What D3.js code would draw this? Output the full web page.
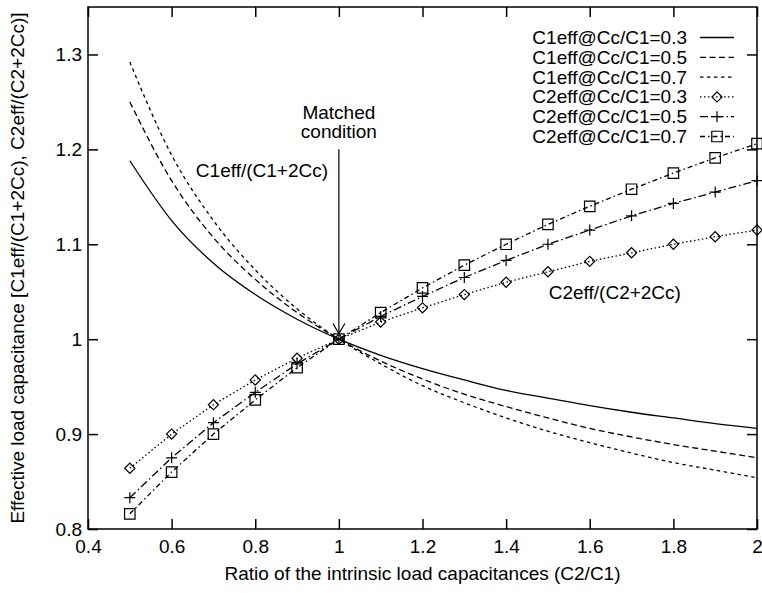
<!DOCTYPE html>
<html>
<head>
<meta charset="utf-8">
<script src="https://cdn.jsdelivr.net/npm/d3@7"></script>
<style>
  body { margin: 0; background: #fff; }
  text { font-family: "Liberation Sans", Arial, Helvetica, sans-serif; font-size: 19px; fill: #000; }
  .axis path { display: none; }
  .axis line { stroke: #000; stroke-width: 1.5; }
</style>
</head>
<body>
<div class="chart"></div>
<script>
// ratio C2/C1 on the x axis
const ratio = [0.5, 0.6, 0.7, 0.8, 0.9, 1.0, 1.1, 1.2, 1.3, 1.4, 1.5, 1.6, 1.7, 1.8, 1.9, 2.0];

// C1eff/(C1+2Cc)
const c1eff03 = [1.188, 1.125, 1.080, 1.047, 1.021, 1.000, 0.983, 0.969, 0.957, 0.946, 0.938, 0.930, 0.923, 0.917, 0.911, 0.906];
const c1eff05 = [1.250, 1.167, 1.107, 1.063, 1.028, 1.000, 0.977, 0.958, 0.942, 0.929, 0.917, 0.906, 0.897, 0.889, 0.882, 0.875];
const c1eff07 = [1.292, 1.194, 1.125, 1.073, 1.032, 1.000, 0.974, 0.951, 0.933, 0.917, 0.903, 0.891, 0.880, 0.870, 0.862, 0.854];

// C2eff/(C2+2Cc)
const c2eff03 = [0.864, 0.900, 0.931, 0.957, 0.980, 1.000, 1.018, 1.033, 1.047, 1.060, 1.071, 1.082, 1.091, 1.100, 1.108, 1.115];
const c2eff05 = [0.833, 0.875, 0.912, 0.944, 0.974, 1.000, 1.024, 1.045, 1.065, 1.083, 1.100, 1.115, 1.130, 1.143, 1.155, 1.167];
const c2eff07 = [0.816, 0.860, 0.900, 0.936, 0.970, 1.000, 1.028, 1.054, 1.078, 1.100, 1.121, 1.140, 1.158, 1.175, 1.191, 1.206];

const seriesNames = ["C1eff@Cc/C1=0.3", "C1eff@Cc/C1=0.5", "C1eff@Cc/C1=0.7",
                     "C2eff@Cc/C1=0.3", "C2eff@Cc/C1=0.5", "C2eff@Cc/C1=0.7"];
const seriesValues = [c1eff03, c1eff05, c1eff07, c2eff03, c2eff05, c2eff07];

const xTicks = [0.4, 0.6, 0.8, 1, 1.2, 1.4, 1.6, 1.8, 2];
const yTicks = [0.8, 0.9, 1, 1.1, 1.2, 1.3];

const xTitle = "Ratio of the intrinsic load capacitances (C2/C1)";
const yTitle = "Effective load capacitance [C1eff/(C1+2Cc), C2eff/(C2+2Cc)]";

// line look per series (gnuplot style)
const styles = [
  {dash: null,            marker: null,      smooth: true},
  {dash: "6,3.5",         marker: null,      smooth: true},
  {dash: "3.5,3.5",       marker: null,      smooth: true},
  {dash: "1.5,2.5",       marker: "diamond", smooth: false},
  {dash: "8,3,1.5,3",     marker: "plus",    smooth: false},
  {dash: "5,3,1.5,3",     marker: "square",  smooth: false}
];

let width = 762,
  height = 593,
  margin = {top: 7, right: 5, bottom: 64, left: 88};

let svg = d3.select(".chart")
  .append("svg")
  .attr("width", width)
  .attr("height", height);

let x = d3.scaleLinear().domain([0.4, 2]).range([margin.left, width - margin.right]);
let y = d3.scaleLinear().domain([0.8, 1.35]).range([height - margin.bottom, margin.top]);

// ticks point inward on all four sides
svg.append("g")
  .attr("class", "axis")
  .attr("transform", `translate(0,${y.range()[0]})`)
  .call(d3.axisBottom(x).tickValues(xTicks).tickSize(-10).tickPadding(11).tickFormat(d => String(d)));

svg.append("g")
  .attr("class", "axis")
  .attr("transform", `translate(0,${y.range()[1]})`)
  .call(d3.axisTop(x).tickValues(xTicks).tickSize(-10).tickFormat(""));

svg.append("g")
  .attr("class", "axis")
  .attr("transform", `translate(${x.range()[0]},0)`)
  .call(d3.axisLeft(y).tickValues(yTicks).tickSize(-10).tickPadding(6).tickFormat(d => String(d)));

svg.append("g")
  .attr("class", "axis")
  .attr("transform", `translate(${x.range()[1]},0)`)
  .call(d3.axisRight(y).tickValues(yTicks).tickSize(-10).tickFormat(""));

svg.selectAll(".axis text").style("font-size", "19px").style("font-family", null);

// frame
svg.append("rect")
  .attr("x", x.range()[0])
  .attr("y", y.range()[1])
  .attr("width", x.range()[1] - x.range()[0])
  .attr("height", y.range()[0] - y.range()[1])
  .attr("fill", "none")
  .attr("stroke", "#000")
  .attr("stroke-width", 1.5);

function markerPath(type) {
  if (type == "diamond") return d3.symbol(d3.symbolSquare, 52)();
  if (type == "square") return d3.symbol(d3.symbolSquare, 110)();
  return "M-5.5,0H5.5M0,-5.5V5.5";
}

function drawMarkers(g, type, pts) {
  g.selectAll(".mk")
    .data(pts)
    .enter().append("path")
    .attr("d", markerPath(type))
    .attr("transform", d => `translate(${d[0]},${d[1]})` + (type == "diamond" ? " rotate(45)" : ""))
    .attr("fill", "none")
    .attr("stroke", "#000")
    .attr("stroke-width", 1.2);
}

// series
seriesValues.forEach((vals, i) => {
  let st = styles[i];
  let line = d3.line()
    .x((d, j) => x(ratio[j]))
    .y(d => y(d))
    .curve(st.smooth ? d3.curveMonotoneX : d3.curveLinear);
  let g = svg.append("g").attr("class", "series");
  g.append("path")
    .datum(vals)
    .attr("d", line)
    .attr("fill", "none")
    .attr("stroke", "#000")
    .attr("stroke-width", 1.3)
    .attr("stroke-dasharray", st.dash);
  if (st.marker) {
    drawMarkers(g, st.marker, vals.map((d, j) => [x(ratio[j]), y(d)]));
  }
});

// legend
let legend = svg.append("g").attr("class", "legend");
seriesNames.forEach((name, i) => {
  let st = styles[i];
  let by = 44 + i * 19.8;
  legend.append("text")
    .attr("x", 687)
    .attr("y", by)
    .attr("text-anchor", "end")
    .text(name);
  legend.append("line")
    .attr("x1", 700).attr("x2", 734)
    .attr("y1", by - 6.5).attr("y2", by - 6.5)
    .attr("stroke", "#000")
    .attr("stroke-width", 1.3)
    .attr("stroke-dasharray", st.dash);
  if (st.marker) {
    drawMarkers(legend.append("g"), st.marker, [[717, by - 6.5]]);
  }
});

// text labels placed in data coordinates
const notes = [
  {text: "C1eff/(C1+2Cc)", at: [0.816, 1.171]},
  {text: "C2eff/(C2+2Cc)", at: [1.66, 1.042]},
  {text: "Matched", at: [1.0, 1.232]},
  {text: "condition", at: [1.0, 1.212]}
];
svg.selectAll(".note")
  .data(notes)
  .enter().append("text")
  .attr("class", "note")
  .attr("x", d => x(d.at[0]))
  .attr("y", d => y(d.at[1]))
  .attr("text-anchor", "middle")
  .text(d => d.text);

// arrow to the matched point
const arrowFrom = [1.0, 1.2];
const arrowTo = [1.0, 1.006];
let ax = x(arrowTo[0]), ay = y(arrowTo[1]);
svg.append("line")
  .attr("x1", x(arrowFrom[0])).attr("y1", y(arrowFrom[1]))
  .attr("x2", ax).attr("y2", ay)
  .attr("stroke", "#000")
  .attr("stroke-width", 1.2);
svg.append("path")
  .attr("d", `M${ax - 6},${ay - 10}L${ax},${ay}L${ax + 6},${ay - 10}`)
  .attr("fill", "none")
  .attr("stroke", "#000")
  .attr("stroke-width", 1.2);

// axis titles
svg.append("text")
  .attr("x", (x.range()[0] + x.range()[1]) / 2)
  .attr("y", 580)
  .attr("text-anchor", "middle")
  .text(xTitle);

svg.append("text")
  .attr("transform", `translate(24,${(y.range()[0] + y.range()[1]) / 2}) rotate(-90)`)
  .attr("text-anchor", "middle")
  .text(yTitle);
</script>
</body>
</html>
